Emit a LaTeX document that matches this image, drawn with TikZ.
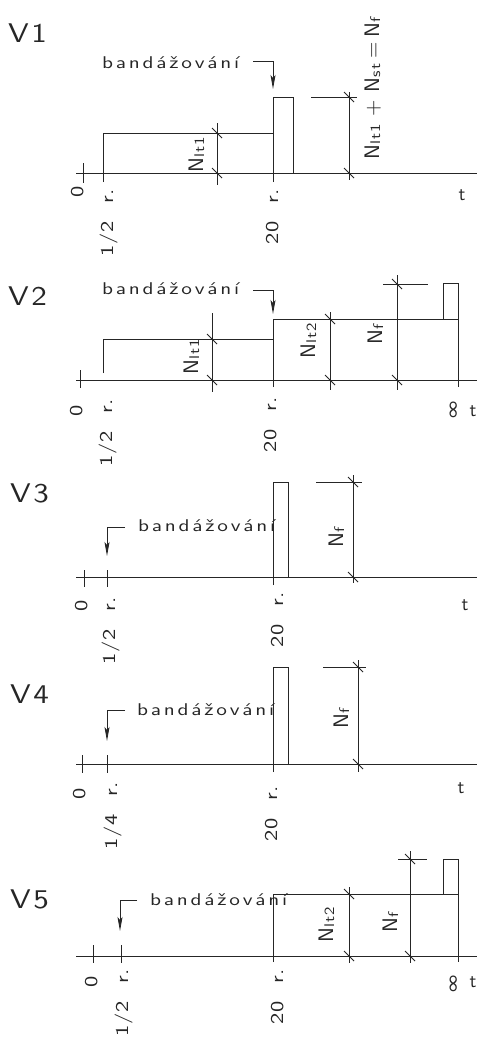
\documentclass[tikz,border=0pt]{standalone}
\usepackage{fontspec}
\setsansfont{lmsans10-regular.otf}
\usetikzlibrary{arrows.meta}
\newfontfamily\djfont{DejaVu Sans}
\newcommand\cw[3]{\scalebox{#1}[1]{\addfontfeatures{LetterSpace=#2}#3}}
\newcommand\Ns[1]{N\raisebox{-1pt}{\fontsize{14}{14}\selectfont\cw{1.2}{6}{#1}}}
\newcommand\tk[2]{\draw[ln] (#1-5,#2-5) -- (#1+5,#2+5);}
\newcommand\inft{\scalebox{1.5}[1.15]{\djfont\fontsize{17}{17}\selectfont ∞}}
\newcommand\band{\cw{1.25}{13}{bandážování}}
\tikzset{
  ln/.style={line width=0.9pt, draw=black!85},
  arr/.style={ln, -{Stealth[length=14pt,width=5pt,inset=3pt]}},
  vlab/.style={inner sep=0, anchor=base west, text=black!85, font=\sffamily\fontsize{27}{27}\selectfont},
  band/.style={inner sep=0, anchor=west, text=black!85, font=\sffamily\fontsize{17}{17}\selectfont},
  axl/.style={inner sep=0, rotate=90, anchor=base west, text=black!85, font=\sffamily\fontsize{18}{18}\selectfont},
  tl/.style={inner sep=0, text=black!85, font=\sffamily\fontsize{19}{19}\selectfont},
  nl/.style={inner sep=0, rotate=90, anchor=base, text=black!85, font=\sffamily\fontsize{21}{21}\selectfont},
}
\newcommand\ax[1]{\cw{1.25}{4}{#1}}
\begin{document}
\begin{tikzpicture}[x=1pt,y=-1pt]
\fill[white] (0,0) rectangle (478,1039);
\useasboundingbox (0,0) rectangle (478,1039);

% ================= V1 =================
\node[vlab] (v1) at (8,42) {\cw{1.15}{8}{V1}};
\node[band] (b1) at (102,62.5) {\band};
\coordinate (l1) at (253,61);
\coordinate (t1) at (273,89);
\draw[arr] (l1) -| (t1);
\draw[ln] (76,173) -- (477,173);
\draw[ln] (83,163) -- (83,183);
\draw[ln] (103,182) -- (103,133) -- (273,133);
\draw[ln] (273,182) -- (273,97) -- (293,97) -- (293,173);
\draw[ln] (217,123) -- (217,185); \tk{217}{133} \tk{217}{173}
\draw[ln] (311,97) -- (357,97);
\draw[ln] (349,92) -- (349,180); \tk{349}{97} \tk{349}{173}
\node[nl] (n11) at (203,154.5) {\Ns{lt1}};
\node[nl] (n12) at (379,88.5) {\Ns{lt1}\hspace{8pt}+\hspace{8pt}\Ns{st}\hspace{5pt}=\hspace{5pt}\Ns{f}};
\node[axl] (a10) at (83,198) {\ax{0}};
\node[axl] (a11) at (113,257) {\ax{1/2\hspace*{14pt}r.}};
\node[axl] (a12) at (278,245) {\ax{20\hspace*{14pt}r.}};
\node[tl] (tt1) at (462,195) {t};

% ================= V2 =================
\node[vlab] (v2) at (8,305) {\cw{1.15}{8}{V2}};
\node[band] (b2) at (102,289) {\band};
\coordinate (l2) at (253,290);
\coordinate (t2) at (273,314);
\draw[arr] (l2) -| (t2);
\draw[ln] (76,380) -- (477,380);
\draw[ln] (80,370) -- (80,388);
\draw[ln] (103,373) -- (103,339) -- (273,339);
\draw[ln] (273,387) -- (273,319) -- (458,319) -- (458,387);
\draw[ln] (443,319) -- (443,283) -- (458,283) -- (458,319);
\draw[ln] (212,313) -- (212,392); \tk{212}{339} \tk{212}{380}
\draw[ln] (330,312) -- (330,390); \tk{330}{319} \tk{330}{380}
\draw[ln] (383,284) -- (428,284);
\draw[ln] (397,275) -- (397,390); \tk{397}{284} \tk{397}{380}
\node[nl] (n21) at (198,357) {\Ns{lt1}};
\node[nl] (n22) at (315,341) {\Ns{lt2}};
\node[nl] (n23) at (382,334) {\Ns{f}};
\node[axl] (a20) at (82,417) {\ax{0}};
\node[axl] (a21) at (112,467) {\ax{1/2\hspace*{14pt}r.}};
\node[axl] (a22) at (276,453) {\ax{20\hspace*{14pt}r.}};
\node[axl] (i2) at (459,421) {\inft};
\node[tl] (tt2) at (473,411) {t};

% ================= V3 =================
\node[vlab] (v3) at (10,502) {\cw{1.15}{8}{V3}};
\node[band] (b3) at (138,526) {\band};
\coordinate (l3) at (125,527);
\coordinate (t3) at (107,556);
\draw[arr] (l3) -| (t3);
\draw[ln] (76,577) -- (477,577);
\draw[ln] (84,570) -- (84,587);
\draw[ln] (107,570) -- (107,587);
\draw[ln] (273,585) -- (273,482) -- (288,482) -- (288,577);
\draw[ln] (316,482) -- (362,482);
\draw[ln] (353,475) -- (353,583); \tk{353}{482} \tk{353}{577}
\node[nl] (n31) at (343,537) {\Ns{f}};
\node[axl] (a30) at (87,612) {\ax{0}};
\node[axl] (a31) at (115,665) {\ax{1/2\hspace*{14pt}r.}};
\node[axl] (a32) at (283,648) {\ax{20\hspace*{14pt}r.}};
\node[tl] (tt3) at (465,605) {t};

% ================= V4 =================
\node[vlab] (v4) at (10,703) {\cw{1.15}{8}{V4}};
\node[band] (b4) at (137,710) {\band};
\coordinate (l4) at (125,710);
\coordinate (t4) at (107,741);
\draw[arr] (l4) -| (t4);
\draw[ln] (76,764) -- (477,764);
\draw[ln] (82,755) -- (82,773);
\draw[ln] (107,755) -- (107,773);
\draw[ln] (273,772) -- (273,667) -- (288,667) -- (288,764);
\draw[ln] (323,667) -- (366,667);
\draw[ln] (358,660) -- (358,772); \tk{358}{667} \tk{358}{764}
\node[nl] (n41) at (348,718) {\Ns{f}};
\node[axl] (a40) at (85,800) {\ax{0}};
\node[axl] (a41) at (117,850) {\ax{1/4\hspace*{14pt}r.}};
\node[axl] (a42) at (277,842) {\ax{20\hspace*{14pt}r.}};
\node[tl] (tt4) at (461,788) {t};

% ================= V5 =================
\node[vlab] (v5) at (10,908) {\cw{1.15}{8}{V5}};
\node[band] (b5) at (150,900) {\band};
\coordinate (l5) at (137,900);
\coordinate (t5) at (120,931);
\draw[arr] (l5) -| (t5);
\draw[ln] (76,956) -- (477,956);
\draw[ln] (93,945) -- (93,963);
\draw[ln] (121,945) -- (121,963);
\draw[ln] (273,962) -- (273,894) -- (458,894) -- (458,962);
\draw[ln] (443,894) -- (443,859) -- (458,859) -- (458,894);
\draw[ln] (349,887) -- (349,963); \tk{349}{894} \tk{349}{956}
\draw[ln] (398,859) -- (427,859);
\draw[ln] (410,851) -- (410,963); \tk{410}{859} \tk{410}{956}
\node[nl] (n51) at (333,925) {\Ns{lt2}};
\node[nl] (n52) at (397,922) {\Ns{f}};
\node[axl] (a50) at (97,988) {\ax{0}};
\node[axl] (a51) at (128,1037) {\ax{1/2\hspace*{14pt}r.}};
\node[axl] (a52) at (283,1025) {\ax{20\hspace*{14pt}r.}};
\node[axl] (i5) at (459,995) {\inft};
\node[tl] (tt5) at (473,982) {t};
\end{tikzpicture}
\end{document}
